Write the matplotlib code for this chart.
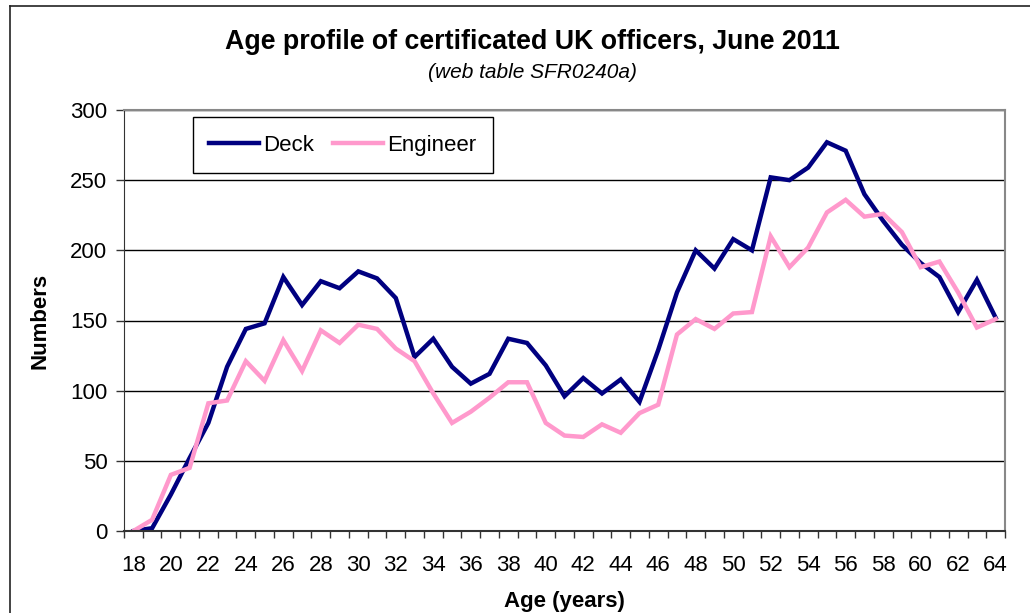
import numpy as np
import matplotlib
matplotlib.use('Agg')
import matplotlib.pyplot as plt
from matplotlib.lines import Line2D

plt.rcParams['font.family'] = ['Liberation Sans', 'DejaVu Sans']

# age categories 18..64
ages = list(range(18, 65))

deck = [0, 2, 26, 52, 77, 117, 144, 148, 181, 161, 178, 173, 185, 180, 166, 124,
        137, 117, 105, 112, 137, 134, 118, 96, 109, 98, 108, 92, 129, 170, 200, 187,
        208, 200, 252, 250, 259, 277, 271, 240, 221, 204, 191, 181, 156, 179, 152]

engineer = [0, 8, 40, 45, 91, 93, 121, 107, 136, 114, 143, 134, 147, 144, 130, 121,
            98, 77, 85, 95, 106, 106, 77, 68, 67, 76, 70, 84, 90, 140, 151, 144,
            155, 156, 210, 188, 202, 227, 236, 224, 226, 213, 188, 192, 170, 145, 151]

fig = plt.figure(figsize=(10.30, 6.13), dpi=100)
ax = fig.add_axes([124/1030, 1 - 531/613, 881/1030, 421/613])

x = np.arange(len(ages))
ax.plot(x, deck, color='#000080', lw=3.2, label='Deck', solid_joinstyle='miter')
ax.plot(x, engineer, color='#FF99CC', lw=3.2, label='Engineer', solid_joinstyle='miter')

ax.set_xlim(-0.5, len(ages) - 0.5)
ax.set_ylim(0, 300)

# category axis: ticks between categories, labels every second age
ax.set_xticks(np.arange(-0.5, len(ages), 1.0))
ax.set_xticklabels([])
ax.set_xticks(x[::2], minor=True)
ax.set_xticklabels([str(a) for a in ages[::2]], minor=True, fontsize=16)
ax.tick_params(axis='x', which='major', direction='out', length=5, width=1, color='#333333')
ax.tick_params(axis='x', which='minor', length=0, pad=17)

ax.set_yticks(range(0, 301, 50))
ax.tick_params(axis='y', direction='out', length=6, width=1, color='#333333', labelsize=16, pad=6)

ax.grid(axis='y', color='black', lw=1)
ax.set_axisbelow(True)
for s in ['top', 'right']:
    ax.spines[s].set_color('#888888')
    ax.spines[s].set_linewidth(1.5)
ax.spines['left'].set_color('#333333')
ax.spines['bottom'].set_color('#333333')
ax.spines['bottom'].set_linewidth(1.5)

ax.set_ylabel('Numbers', fontsize=16, fontweight='bold', labelpad=14)
ax.set_xlabel('Age (years)', fontsize=16, fontweight='bold', labelpad=11)

fig.text(532/1030, 1 - 42/613, 'Age profile of certificated UK officers, June 2011',
         ha='center', va='center', fontsize=19.3, fontweight='bold')
fig.text(532/1030, 1 - 73/613, '(web table SFR0240a)',
         ha='center', va='center', fontsize=15, style='italic')

leg = ax.legend(loc='upper left', bbox_to_anchor=(0.078, 0.983), borderaxespad=0,
                ncol=2, fontsize=16, frameon=True, fancybox=False, edgecolor='black',
                framealpha=1, handlelength=2.25, handletextpad=0.18, columnspacing=0.85,
                borderpad=0.75, handleheight=1.0)
leg.get_frame().set_linewidth(1)

# chart area border (left and top edges visible)
fig.add_artist(Line2D([10/1030, 10/1030], [0, 1 - 6/613], color='#222222', lw=1.2))
fig.add_artist(Line2D([10/1030, 1], [1 - 6/613, 1 - 6/613], color='#222222', lw=1.2))

fig.savefig('out.png', dpi=100)
